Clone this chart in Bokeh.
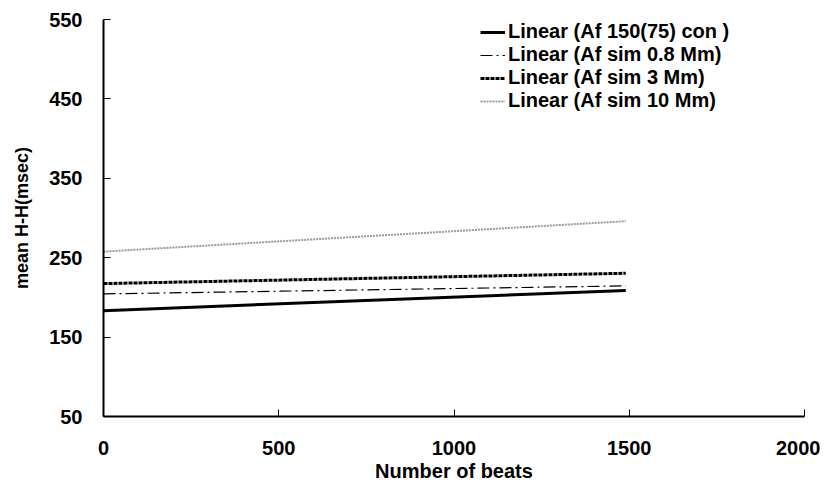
from bokeh.plotting import figure
from bokeh.embed import file_html
from bokeh.resources import INLINE
from bokeh.models import Legend, LegendItem, FixedTicker

# Data: linear trend lines (start and end points)
x_vals = [0, 1490]
con_150 = [183.3, 208.6]      # Linear (Af 150(75) con )
sim_08 = [204.4, 214.5]       # Linear (Af sim 0.8 Mm)
sim_3 = [217.4, 230.4]        # Linear (Af sim 3 Mm)
sim_10 = [257.7, 296.0]       # Linear (Af sim 10 Mm)

series_names = ["Linear (Af 150(75) con )", "Linear (Af sim 0.8 Mm)",
                "Linear (Af sim 3 Mm)", "Linear (Af sim 10 Mm)"]
x_ticks = [0, 500, 1000, 1500, 2000]
y_ticks = [50, 150, 250, 350, 450, 550]

FONT = "Liberation Sans"

p = figure(width=820, height=487, output_backend="svg", toolbar_location=None,
           x_range=(0, 2000), y_range=(50, 550),
           min_border_left=103, min_border_right=16, min_border_top=19, min_border_bottom=71)
p.outline_line_color = None
p.xgrid.visible = False
p.ygrid.visible = False

r1 = p.line(x_vals, con_150, line_color="black", line_width=3)
r2 = p.line(x_vals, sim_08, line_color="black", line_width=1.2, line_dash="12 4 2 4")
r3 = p.line(x_vals, sim_3, line_color="black", line_width=3, line_dash="4 1")
r4 = p.line(x_vals, sim_10, line_color="#9a9a9a", line_width=2, line_dash="2 1")

for ax, ticks in ((p.xaxis, x_ticks), (p.yaxis, y_ticks)):
    ax.ticker = FixedTicker(ticks=ticks)
    ax.axis_line_width = 2
    ax.axis_line_color = "black"
    ax.major_tick_in = 7
    ax.major_tick_out = 0
    ax.major_tick_line_width = 1
    ax.minor_tick_line_color = None
    ax.major_label_text_font = FONT
    ax.major_label_text_font_style = "bold"
    ax.major_label_text_font_size = "20px"
    ax.major_label_text_color = "black"
    ax.axis_label_text_font = FONT
    ax.axis_label_text_font_style = "bold"
    ax.axis_label_text_color = "black"

p.xaxis.axis_label = "Number of beats"
p.xaxis.axis_label_text_font_size = "20px"
p.xaxis.major_label_standoff = 24
p.xaxis.axis_label_standoff = 2
p.yaxis.axis_label = "mean H-H(msec)"
p.yaxis.axis_label_text_font_size = "18px"
p.yaxis.major_label_standoff = 21
p.yaxis.axis_label_standoff = 14

legend = Legend(items=[LegendItem(label=n, renderers=[r]) for n, r in
                       zip(series_names, [r1, r2, r3, r4])],
                location=(377, 304), orientation="vertical")
legend.background_fill_alpha = 0
legend.border_line_color = None
legend.padding = 0
legend.margin = 0
legend.spacing = -4
legend.glyph_width = 25
legend.glyph_height = 20
legend.label_height = 20
legend.label_standoff = 3
legend.label_text_font = FONT
legend.label_text_font_style = "bold"
legend.label_text_font_size = "20px"
legend.label_text_color = "black"
p.add_layout(legend, "center")

open("out.html", "w").write(file_html(p, INLINE))
